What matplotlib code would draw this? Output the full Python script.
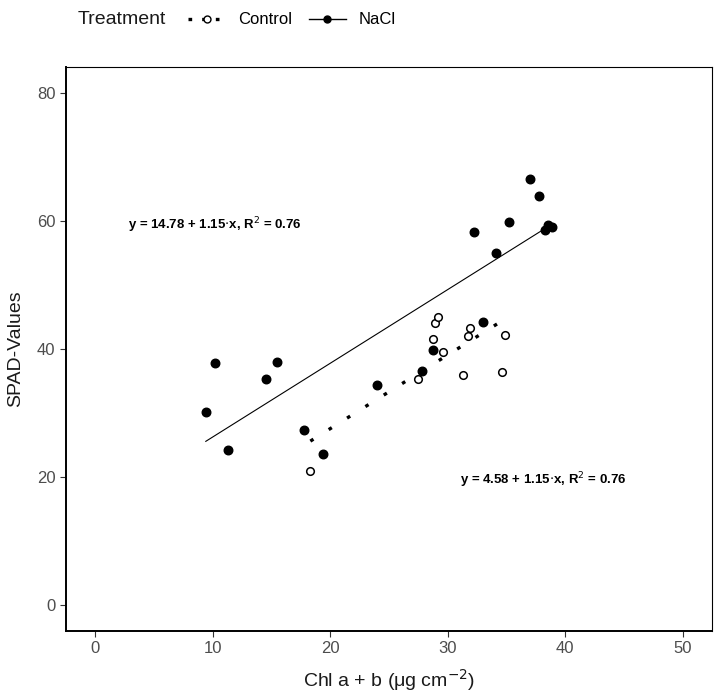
import numpy as np
import matplotlib
matplotlib.use("Agg")
import matplotlib.pyplot as plt
from matplotlib.lines import Line2D

plt.rcParams['font.family'] = ['Liberation Sans', 'DejaVu Sans']

# Control (open circles)
ctrl_x = [18.3, 27.5, 28.7, 28.9, 29.2, 29.6, 31.3, 31.7, 31.9, 34.6, 34.9]
ctrl_y = [20.9, 35.3, 41.6, 44.0, 45.0, 39.5, 36.0, 42.0, 43.2, 36.4, 42.2]

# NaCl (filled circles)
nacl_x = [9.4, 10.2, 11.3, 14.5, 15.5, 17.8, 19.4, 24.0, 27.8, 28.7,
          32.2, 33.0, 34.1, 35.2, 37.0, 37.8, 38.3, 38.5, 38.9]
nacl_y = [30.2, 37.8, 24.3, 35.3, 38.0, 27.4, 23.6, 34.4, 36.6, 39.8,
          58.2, 44.2, 55.0, 59.8, 66.5, 63.8, 58.5, 59.3, 59.0]

# regression coefficients shown on the chart
ctrl_fit = (4.58, 1.15)
nacl_fit = (14.78, 1.15)

x_ticks = [0, 10, 20, 30, 40, 50]
y_ticks = [0, 20, 40, 60, 80]

fig = plt.figure(figsize=(7.14, 6.93), dpi=100)
ax = fig.add_axes([0.0924, 0.0895, 0.905, 0.8138])

# points
ax.scatter(nacl_x, nacl_y, s=38, c='black', zorder=3)
ax.scatter(ctrl_x, ctrl_y, s=30, facecolors='white', edgecolors='black',
           linewidths=1.1, zorder=3)

# fitted lines
dotted = (0, (1.1, 5.4))
xn = np.array([min(nacl_x), max(nacl_x)])
ax.plot(xn, nacl_fit[0] + nacl_fit[1] * xn, color='black', lw=0.8)
xc = np.array([min(ctrl_x), max(ctrl_x)])
ax.plot(xc, ctrl_fit[0] + ctrl_fit[1] * xc, color='black', lw=2.4,
        linestyle=dotted, dash_capstyle='butt')

# equations
ax.text(2.8, 59.3, r'y = 14.78 + 1.15$\cdot$x, R$^2$ = 0.76', fontsize=9.5,
        fontweight='bold', va='center', ha='left')
ax.text(31.0, 19.6, r'y = 4.58 + 1.15$\cdot$x, R$^2$ = 0.76', fontsize=9.5,
        fontweight='bold', va='center', ha='left')

ax.set_xlim(-2.5, 52.5)
ax.set_ylim(-4, 84)
ax.set_xticks(x_ticks)
ax.set_yticks(y_ticks)
ax.tick_params(colors='#4D4D4D', labelsize=12, length=4, width=0.8)
ax.tick_params(axis='both', color='#333333')
for side in ['left', 'bottom']:
    ax.spines[side].set_linewidth(1.4)
for side in ['top', 'right']:
    ax.spines[side].set_linewidth(0.8)

ax.set_xlabel(r'Chl a + b ($\mathregular{\mu}$g cm$^{-2}$)', fontsize=14,
              color='#1a1a1a', labelpad=8)
ax.set_ylabel('SPAD-Values', fontsize=14, color='#1a1a1a', labelpad=9)

# legend on top
fig.text(78 / 714, 1 - 20 / 693, 'Treatment', fontsize=14, color='#1a1a1a',
         va='center', ha='left')
h_ctrl = Line2D([], [], color='black', lw=2.4, linestyle=(0, (1.1, 3)),
                marker='o', markerfacecolor='white', markeredgecolor='black',
                markersize=5)
h_nacl = Line2D([], [], color='black', lw=1, marker='o',
                markerfacecolor='black', markersize=5)
fig.legend([h_ctrl, h_nacl], ['Control', 'NaCl'],
           loc='center left', bbox_to_anchor=(180 / 714, 1 - 20 / 693),
           ncol=2, frameon=False, fontsize=12, borderpad=0,
           handlelength=2.2, columnspacing=1.0, handletextpad=0.8)

fig.savefig('out.png', dpi=100)
